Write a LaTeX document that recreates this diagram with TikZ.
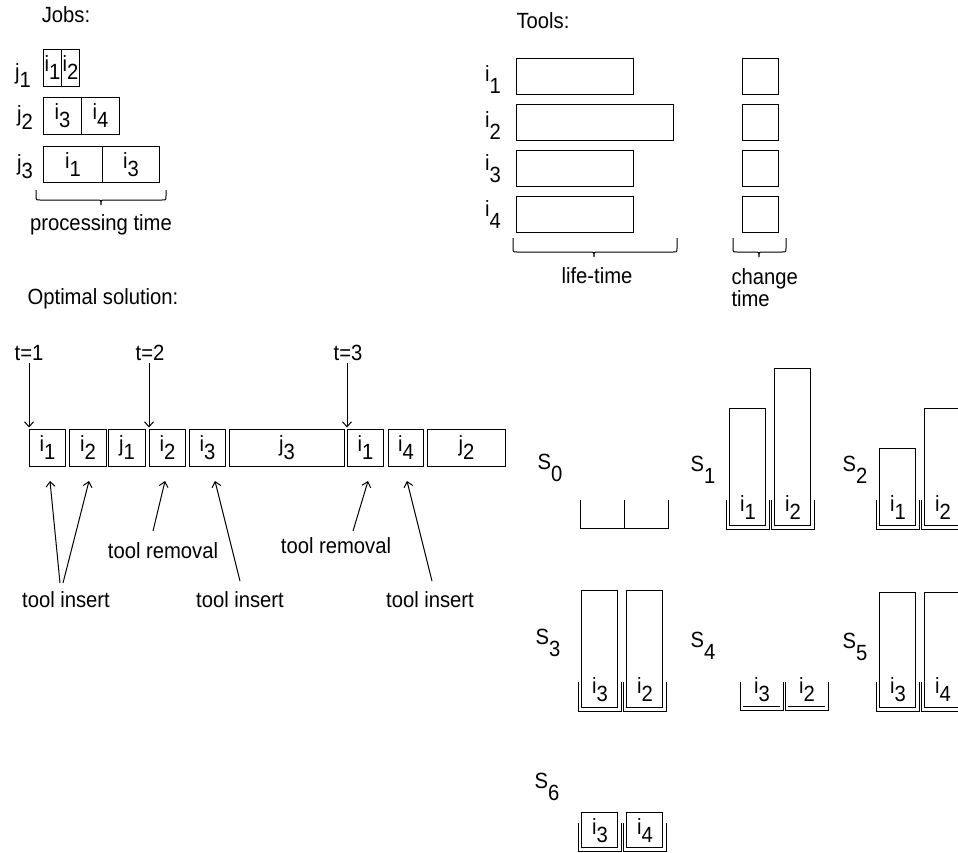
\documentclass[tikz,border=0pt]{standalone}
\usepackage{fontspec}
\setmainfont{Liberation Sans}[FakeStretch=0.92]
\usetikzlibrary{arrows.meta}
\newcommand{\isub}[2]{#1\raisebox{-8pt}{#2}}
\newcommand{\isubb}[2]{#1\raisebox{-12pt}{#2}}
\newcommand{\slotU}[3]{\draw (#1,#2) -- (#1,#3) -- (#1+43,#3) -- (#1+43,#2);}
\newcommand{\toolbx}[3]{\draw (#1+3.5,#2) rectangle (#1+39.5,#3-3.5);}
\begin{document}
\begin{tikzpicture}[x=1pt, y=-1pt, line width=1pt,
  every node/.style={font=\fontsize{22pt}{22pt}\selectfont, inner sep=0pt},
  cell/.style={draw, anchor=north west, minimum height=37pt},
  tcell/.style={draw, anchor=north west, minimum height=36pt},
  arr/.style={-{Straight Barb[length=5pt,width=9pt]}}]
\path[use as bounding box] (0,0) rectangle (958,852);
\fill[white] (0,0) rectangle (958,852);
\clip (0,0) rectangle (958,852);

% ---------------- Jobs ----------------
\node (jobs) at (66,15) {Jobs:};
\node (jl1) at (23,76) {\isub{j}{1}};
\node (jl2) at (25,118) {\isub{j}{2}};
\node (jl3) at (25,167) {\isub{j}{3}};
\node[cell, minimum width=18pt] (j1a) at (43,49) {\isub{i}{1}};
\node[cell, minimum width=18pt] (j1b) at (61,49) {\isub{i}{2}};
\node[cell, minimum width=38pt] (j2a) at (43,97) {\isub{i}{3}};
\node[cell, minimum width=38pt] (j2b) at (81,97) {\isub{i}{4}};
\node[cell, minimum width=59pt, minimum height=36pt] (j3a) at (43,146) {\isub{i}{1}};
\node[cell, minimum width=57pt, minimum height=36pt] (j3b) at (102,146) {\isub{i}{3}};
\draw (36,190) -- (36,196) .. controls (36,200) .. (40,200) -- (97,200)
      .. controls (101,200) .. (101,205) .. controls (101,200) .. (105,200)
      -- (162,200) .. controls (166,200) .. (166,196) -- (166,190);
\node (pt) at (101,225) {processing time};

% ---------------- Tools ----------------
\node (tools) at (543,21) {Tools:};
\node (tl1) at (493,80) {\isubb{i}{1}};
\node (tl2) at (493,126) {\isubb{i}{2}};
\node (tl3) at (493,169) {\isubb{i}{3}};
\node (tl4) at (493,215) {\isubb{i}{4}};
\node[tcell, minimum width=117pt] (lt1) at (516,58) {};
\node[tcell, minimum width=157pt] (lt2) at (516,104) {};
\node[tcell, minimum width=117pt] (lt3) at (516,150) {};
\node[tcell, minimum width=117pt] (lt4) at (516,196) {};
\node[tcell, minimum width=36pt] (ct1) at (742,58) {};
\node[tcell, minimum width=36pt] (ct2) at (742,104) {};
\node[tcell, minimum width=36pt] (ct3) at (742,150) {};
\node[tcell, minimum width=36pt] (ct4) at (742,196) {};
\draw (513,238) -- (513,248) .. controls (513,252) .. (517,252) -- (590,252)
      .. controls (594,252) .. (594,257) .. controls (594,252) .. (598,252)
      -- (673,252) .. controls (677,252) .. (677,248) -- (677,238);
\draw (733,238) -- (733,248) .. controls (733,252) .. (737,252) -- (755,252)
      .. controls (759,252) .. (759,257) .. controls (759,252) .. (763,252)
      -- (782,252) .. controls (786,252) .. (786,248) -- (786,238);
\node (life) at (597,276) {life-time};
\node[align=left, anchor=north west] (chg) at (731,268) {change\\time};

% ---------------- Optimal solution ----------------
\node (opt) at (103,299) {Optimal solution:};
\node[cell, minimum width=36pt] (b1) at (29,429) {\isub{i}{1}};
\node[cell, minimum width=37pt] (b2) at (69,429) {\isub{i}{2}};
\node[cell, minimum width=37pt] (b3) at (108,429) {\isub{j}{1}};
\node[cell, minimum width=36pt] (b4) at (149,429) {\isub{i}{2}};
\node[cell, minimum width=36pt] (b5) at (189,429) {\isub{i}{3}};
\node[cell, minimum width=115pt] (b6) at (229,429) {\isub{j}{3}};
\node[cell, minimum width=36pt] (b7) at (347,429) {\isub{i}{1}};
\node[cell, minimum width=35pt] (b8) at (388,429) {\isub{i}{4}};
\node[cell, minimum width=78pt] (b9) at (427,429) {\isub{j}{2}};

\node (t1) at (29,353) {t=1};
\node (t2) at (150,353) {t=2};
\node (t3) at (348,353) {t=3};
\draw[arr, shorten >=1.5pt] (t1.south -| b1.north west) ++(0,2) -- (b1.north west);
\draw[arr, shorten >=1.5pt] (t2.south -| b4.north west) ++(0,2) -- (b4.north west);
\draw[arr, shorten >=1.5pt] (t3.south -| b7.north west) ++(0,2) -- (b7.north west);

\node (ins1) at (66,600) {tool insert};
\node (rem1) at (163,551) {tool removal};
\node (ins2) at (240,600) {tool insert};
\node (rem2) at (336,546) {tool removal};
\node (ins3) at (430,600) {tool insert};

\coordinate (a1s) at (60,583);  \coordinate (a1e) at (50,481);
\coordinate (a2s) at (63,583);  \coordinate (a2e) at (89,481);
\coordinate (a3s) at (153,531); \coordinate (a3e) at (165,481);
\coordinate (a4s) at (240,581); \coordinate (a4e) at (215,481);
\coordinate (a5s) at (353,531); \coordinate (a5e) at (368,481);
\coordinate (a6s) at (432,581); \coordinate (a6e) at (407,481);
\draw[arr] (a1s) -- (a1e);
\draw[arr] (a2s) -- (a2e);
\draw[arr] (a3s) -- (a3e);
\draw[arr] (a4s) -- (a4e);
\draw[arr] (a5s) -- (a5e);
\draw[arr] (a6s) -- (a6e);

% ---------------- States ----------------
% S0
\node (s0) at (550,468) {\isubb{S}{0}};
\draw (580,500) -- (580,528) -- (668,528) -- (668,500);
\draw (624,500) -- (624,528);
% S1
\node (s1) at (703,470) {\isubb{S}{1}};
\slotU{726}{500}{529} \slotU{771}{500}{529}
\toolbx{726}{408}{529} \toolbx{771}{368}{529}
\node (s1a) at (748,508) {\isub{i}{1}};
\node (s1b) at (793,508) {\isub{i}{2}};
% S2
\node (s2) at (855,470) {\isubb{S}{2}};
\slotU{876}{500}{529} \slotU{921}{500}{529}
\toolbx{876}{448}{529} \toolbx{921}{408}{529}
\node (s2a) at (898,508) {\isub{i}{1}};
\node (s2b) at (943,508) {\isub{i}{2}};
% S3
\node (s3) at (548,643) {\isubb{S}{3}};
\slotU{578}{682}{711} \slotU{623}{682}{711}
\toolbx{578}{590}{711} \toolbx{623}{590}{711}
\node (s3a) at (600,690) {\isub{i}{3}};
\node (s3b) at (645,690) {\isub{i}{2}};
% S4
\node (s4) at (703,646) {\isubb{S}{4}};
\slotU{740}{682}{710} \slotU{785}{682}{710}
\draw (743,706) -- (780,706);
\draw (788,706) -- (825,706);
\node (s4a) at (762,690) {\isub{i}{3}};
\node (s4b) at (807,690) {\isub{i}{2}};
% S5
\node (s5) at (855,647) {\isubb{S}{5}};
\slotU{876}{682}{711} \slotU{921}{682}{711}
\toolbx{876}{592}{711} \toolbx{921}{592}{711}
\node (s5a) at (898,690) {\isub{i}{3}};
\node (s5b) at (943,690) {\isub{i}{4}};
% S6
\node (s6) at (547,787) {\isubb{S}{6}};
\slotU{578}{823}{851} \slotU{623}{823}{851}
\toolbx{578}{812}{851} \toolbx{623}{812}{851}
\node (s6a) at (600,831) {\isub{i}{3}};
\node (s6b) at (645,831) {\isub{i}{4}};
\end{tikzpicture}
\end{document}
